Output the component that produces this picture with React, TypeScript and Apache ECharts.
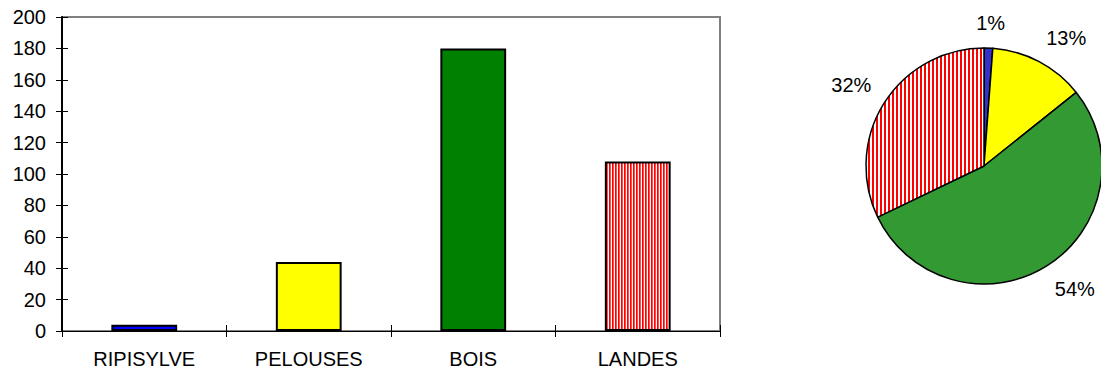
import React, { useEffect, useRef } from "react";
import * as echarts from "echarts";

// Surface per habitat type (ha)
const categories = ["RIPISYLVE", "PELOUSES", "BOIS", "LANDES"];
const surfaces = [4, 44, 180, 108];

// Plain fills; null marks the hatched (striped) habitat
const barColors: (string | null)[] = ["#0000ff", "#ffff00", "#008000", null];
const pieColors: (string | null)[] = ["#3333cc", "#ffff00", "#339933", null];

// Vertical stripe columns for the hatched fill
const barStripe = ["#ff0000", "#ff5050", "#ffffff"];
const pieStripe = ["#ff0000", "#ff0000", "#ffffff", "#ffffff"];

// Value axis range
const yMin = 0;
const yMax = 200;
const yStep = 20;

const FONT = "'Liberation Sans', Arial, sans-serif";

function stripePattern(cols: string[]) {
  const c = document.createElement("canvas");
  c.width = cols.length;
  c.height = 4;
  const ctx = c.getContext("2d")!;
  cols.forEach((col, i) => {
    ctx.fillStyle = col;
    ctx.fillRect(i, 0, 1, 4);
  });
  return {
    image: c,
    repeat: "repeat",
    imageWidth: cols.length,
    imageHeight: 4,
  } as any;
}

export default function App() {
  const ref = useRef<HTMLDivElement>(null);

  useEffect(() => {
    if (!ref.current) return;
    const chart = echarts.init(ref.current, undefined, { renderer: "svg" });

    const barFill = stripePattern(barStripe);
    const pieFill = stripePattern(pieStripe);

    const clamp = (v: number) => Math.max(-1, Math.min(1, v * 3));

    chart.setOption({
      animation: false,
      backgroundColor: "#ffffff",
      grid: {
        left: 62,
        right: 381,
        top: 17,
        bottom: 42,
        show: true,
        borderColor: "#808080",
        borderWidth: 2,
      },
      xAxis: [
        {
          type: "category",
          data: categories,
          position: "bottom",
          axisLine: { show: true, lineStyle: { color: "#000", width: 1 } },
          axisTick: { show: true, length: 6, lineStyle: { color: "#000", width: 1 } },
          axisLabel: { fontSize: 20, fontFamily: FONT, color: "#000", margin: 18 },
          splitLine: { show: false },
        },
        {
          type: "category",
          data: categories,
          position: "bottom",
          axisLine: { show: false },
          axisTick: { show: true, inside: true, length: 6, lineStyle: { color: "#000", width: 1 } },
          axisLabel: { show: false },
          splitLine: { show: false },
        },
      ],
      yAxis: [
        {
          type: "value",
          min: yMin,
          max: yMax,
          interval: yStep,
          position: "left",
          axisLine: { show: true, lineStyle: { color: "#000", width: 2 } },
          axisTick: { show: true, length: 6, lineStyle: { color: "#000", width: 1 } },
          axisLabel: { fontSize: 20, fontFamily: FONT, color: "#000", margin: 16 },
          splitLine: { show: false },
        },
        {
          type: "value",
          min: yMin,
          max: yMax,
          interval: yStep,
          position: "left",
          axisLine: { show: false },
          axisTick: { show: true, inside: true, length: 6, lineStyle: { color: "#000", width: 1 } },
          axisLabel: { show: false },
          splitLine: { show: false },
        },
      ],
      series: [
        {
          type: "bar",
          xAxisIndex: 0,
          yAxisIndex: 0,
          barWidth: "40%",
          data: surfaces.map((v, i) => ({
            value: v,
            itemStyle: {
              color: barColors[i] ?? barFill,
              borderColor: "#000",
              borderWidth: 2,
            },
          })),
          emphasis: { disabled: true },
        },
        {
          type: "pie",
          center: [984, 166],
          radius: 118,
          startAngle: 90,
          clockwise: true,
          avoidLabelOverlap: false,
          data: categories.map((name, i) => ({
            name,
            value: surfaces[i],
            itemStyle: { color: pieColors[i] ?? pieFill },
          })),
          itemStyle: { borderColor: "#000", borderWidth: 1.5 },
          label: {
            show: true,
            position: "outside",
            fontSize: 20,
            fontFamily: FONT,
            color: "#000",
            formatter: (p: any) => Math.round(p.percent) + "%",
          },
          labelLine: {
            show: true,
            length: 15,
            length2: 1,
            lineStyle: { opacity: 0, width: 0 },
          },
          // Place each label just beyond the rim along the slice's mid-angle
          labelLayout: (p: any) => {
            const pts = p.labelLinePoints;
            if (!pts || pts.length < 2) return {};
            const [x0, y0] = pts[0];
            const [x1, y1] = pts[1];
            const len = Math.hypot(x1 - x0, y1 - y0) || 1;
            const ux = (x1 - x0) / len;
            const uy = (y1 - y0) / len;
            return {
              x: x1 + (p.labelRect.width / 2) * clamp(ux),
              y: y1 + (p.labelRect.height / 2) * clamp(uy),
              align: "center",
              verticalAlign: "middle",
            };
          },
          emphasis: { disabled: true },
        },
      ],
    });

    return () => chart.dispose();
  }, []);

  return (
    <div
      ref={ref}
      style={{ position: "absolute", left: 0, top: 0, width: 1101, height: 373 }}
    />
  );
}
